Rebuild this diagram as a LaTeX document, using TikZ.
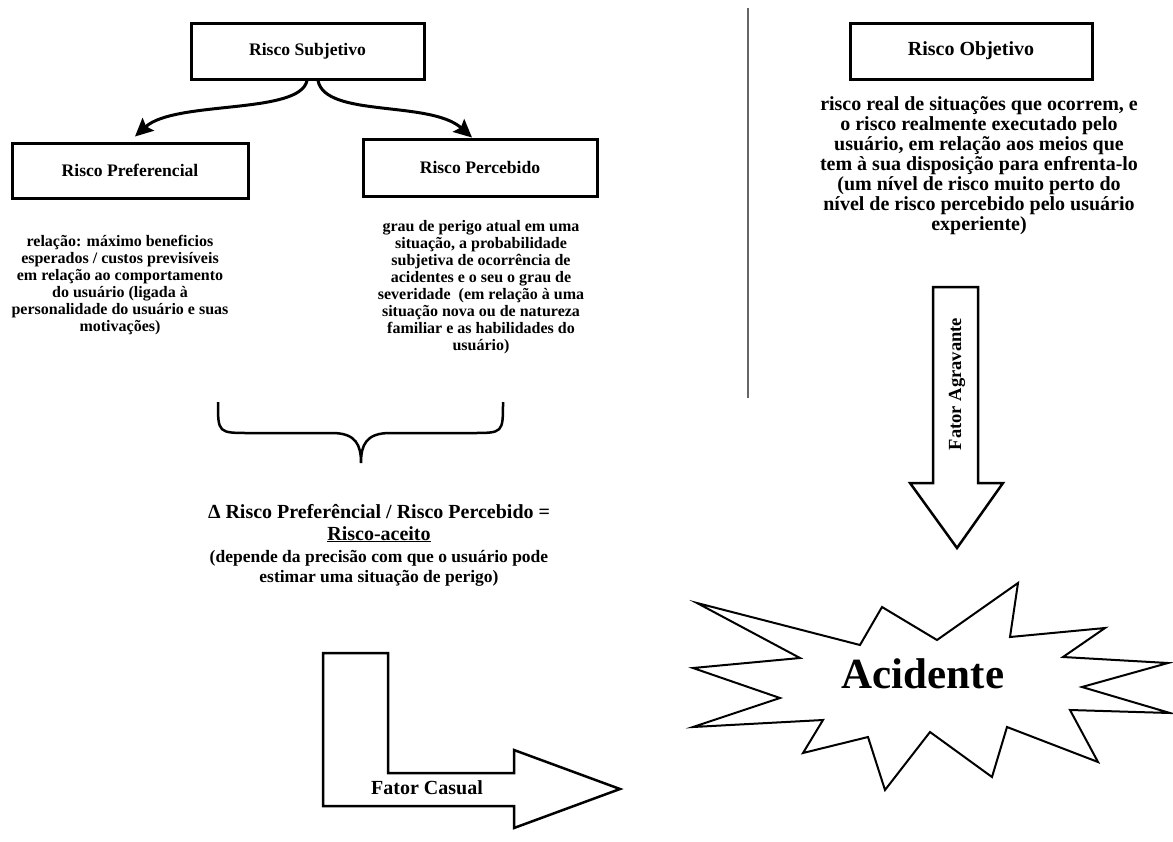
\documentclass[tikz,border=0pt]{standalone}
\usepackage{fontspec}
\setmainfont{Liberation Serif}
\usetikzlibrary{arrows.meta}
\begin{document}
\begin{tikzpicture}[x=1pt,y=-1pt,
  titlebox/.style={draw, line width=3pt, inner sep=0pt, font=\fontsize{17.6}{21}\selectfont\bfseries},
  bodytext/.style={align=center, inner sep=0pt, font=\fontsize{16}{17}\selectfont\bfseries},
  objtext/.style={align=center, inner sep=0pt, font=\fontsize{20}{20}\selectfont\bfseries},
  bigline/.style={anchor=base, inner sep=0pt, font=\fontsize{20}{24}\selectfont\bfseries},
  smallline/.style={anchor=base, inner sep=0pt, font=\fontsize{17.5}{21}\selectfont\bfseries},
  curvearrow/.style={line width=3pt, -{Stealth[length=18pt,width=17pt,inset=3pt]}},
  blockarrow/.style={draw, line width=2.5pt, line join=miter},
  burst/.style={draw, line width=2pt, line join=miter},
  separator/.style={line width=2pt, black!60},
]
\useasboundingbox (0,0) rectangle (1173,841);

% title boxes
\node[titlebox, minimum width=233pt, minimum height=56pt] (subj) at (307.5,51) {Risco Subjetivo};
\node[titlebox, minimum width=236pt, minimum height=55pt] (pref) at (130,170.5) {Risco Preferencial};
\node[titlebox, minimum width=234pt, minimum height=57pt] (perc) at (480,167.5) {Risco Percebido};
\node[titlebox, minimum width=242pt, minimum height=56pt, font=\fontsize{20}{24}\selectfont\bfseries] (obj) at (971,51) {Risco Objetivo};

% curved arrows
\draw[curvearrow] ([xshift=-0.5pt]subj.south) .. controls (300,115) and (175,100) .. ([shift={(5,-5)}]pref.north);
\draw[curvearrow] ([xshift=10.5pt]subj.south) .. controls (325,118) and (430,100) .. ([shift={(-8,0)}]perc.north);

% descriptive texts
\node[bodytext] (preftxt) at (120,285.5) {relação: máximo beneficios\\esperados / custos previsíveis\\em relação ao comportamento\\do usuário (ligada à\\personalidade do usuário e suas\\motivações)};
\node[bodytext] (perctxt) at (481,287.5) {grau de perigo atual em uma\\situação, a probabilidade\\subjetiva de ocorrência de\\acidentes e o seu o grau de\\severidade~ (em relação à uma\\situação nova ou de natureza\\familiar e as habilidades do\\usuário)};
\node[objtext] (objtxt) at (979,166) {risco real de situações que ocorrem, e\\o risco realmente executado pelo\\usuário, em relação aos meios que\\tem à sua disposição para enfrenta-lo\\(um nível de risco muito perto do\\nível de risco percebido pelo usuário\\experiente)};

% brace
\draw[line width=2.5pt] (218,402) .. controls (218,433) .. (250,433) -- (332,433)
  .. controls (356,433) and (361,445) .. (361,463)
  .. controls (361,445) and (366,433) .. (390,433) -- (472,433)
  .. controls (503,433) .. (503,402);

% formula
\node[bigline] (f1) at (379,518) {Δ Risco Preferêncial / Risco Percebido =};
\node[bigline] (f2) at (379,540) {\underline{Risco-aceito}};
\node[smallline] (f3) at (379,562) {(depende da precisão com que o usuário pode};
\node[smallline] (f4) at (379,582) {estimar uma situação de perigo)};

% separator
\coordinate (vtop) at (748,8);
\coordinate (vbot) at (748,398);
\draw[separator] (vtop) -- (vbot);

% Fator Agravante arrow
\draw[blockarrow] (933,287) -- (978,287) -- (978,483) -- (1003,483) -- (957,548) -- (910,483) -- (933,483) -- cycle;
\node[rotate=90, inner sep=0pt, font=\fontsize{18.5}{20}\selectfont\bfseries] (agr) at (957,384) {Fator Agravante};

% starburst
\draw[burst] (697,603) -- (860,645) -- (882,607) -- (937,640) -- (1018,583) -- (1010,637) -- (1105,628) -- (1063,657) -- (1168,663) -- (1082,687) -- (1170,713) -- (1070,710) -- (1098,762) -- (1007,727) -- (992,777) -- (930,732) -- (885,790) -- (868,737) -- (803,753) -- (823,720) -- (693,727) -- (780,698) -- (693,668) -- (800,658) -- cycle;
\node[anchor=base, inner sep=0pt, font=\fontsize{43}{48}\selectfont\bfseries] (acid) at (923,688) {Acidente};

% Fator Casual arrow
\draw[blockarrow] (323,653) -- (388,653) -- (388,773) -- (514,773) -- (514,750) -- (620,789) -- (514,828) -- (514,806) -- (323,806) -- cycle;
\node[anchor=base, inner sep=0pt, font=\fontsize{20}{24}\selectfont\bfseries] (cas) at (427,794) {Fator Casual};
\end{tikzpicture}
\end{document}
